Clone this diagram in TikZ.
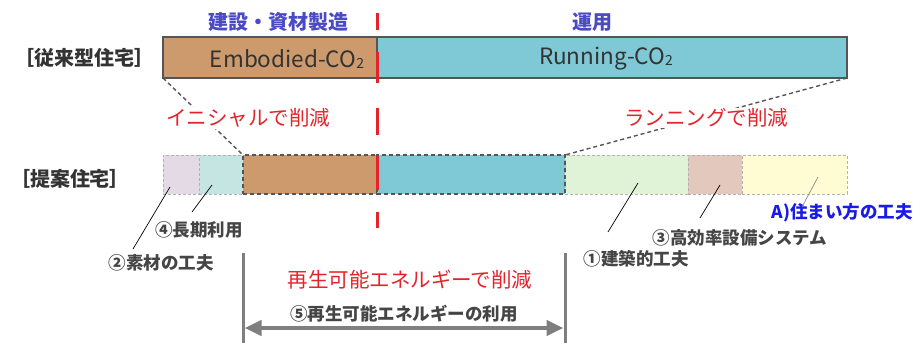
\documentclass[tikz,border=0pt]{standalone}
\usepackage{fontspec}
\setmainfont{Noto Sans CJK JP}
\usetikzlibrary{arrows.meta}
\definecolor{cbrown}{HTML}{CC9A6C}
\definecolor{cblue}{HTML}{7EC9D5}
\definecolor{cpurple}{HTML}{E4DAE6}
\definecolor{cteal}{HTML}{C4E5E1}
\definecolor{cgreen}{HTML}{E0F3D6}
\definecolor{cpink}{HTML}{E3C8BE}
\definecolor{cyellow}{HTML}{FFFCD4}
\definecolor{cdark}{HTML}{555555}
\definecolor{ctext}{HTML}{333333}
\definecolor{cnum}{HTML}{454545}
\definecolor{ctopblue}{HTML}{4A4AC4}
\definecolor{cablue}{HTML}{1A1AE8}
\definecolor{cred}{HTML}{E3242B}
\definecolor{cline}{HTML}{7F7F7F}
\begin{document}
\begin{tikzpicture}[x=1pt,y=-1pt,
  bar/.style={draw=cdark,line width=1.5pt,minimum height=41pt,anchor=north west,inner sep=0pt,outer sep=0pt},
  dbar/.style={draw=cdark,line width=1.4pt,dash pattern=on 4pt off 3pt,minimum height=39pt,anchor=north west,inner sep=0pt,outer sep=0pt},
  lbar/.style={draw=black!30,line width=0.7pt,dash pattern=on 3pt off 2pt,minimum height=39pt,anchor=north west,inner sep=0pt,outer sep=0pt},
  bigtxt/.style={font=\fontsize{22.5}{26}\selectfont,text=ctext},
  hlbl/.style={font=\fontsize{20}{24}\selectfont\bfseries,text=ctext,inner sep=0pt},
  toplbl/.style={font=\fontsize{20}{24}\selectfont\bfseries,text=ctopblue,inner sep=0pt},
  redlbl/.style={font=\fontsize{20.5}{24}\selectfont,text=cred,fill=white,inner sep=1pt},
  numlbl/.style={font=\fontsize{17.5}{20}\selectfont\bfseries,text=cnum,inner sep=0pt},
  conn/.style={draw=cdark,line width=1.4pt,dash pattern=on 4pt off 3pt},
  leader/.style={draw=black,line width=0.7pt},
  reddash/.style={draw=cred,line width=3pt},
  vline/.style={draw=cline,line width=3pt},
  dblarrow/.style={draw=cline,line width=4.5pt,{Triangle[length=17pt,width=15pt]}-{Triangle[length=17pt,width=15pt]}}
]
\useasboundingbox (0,0) rectangle (914,343);

% top bar
\node[bar,fill=cbrown,minimum width=214pt] (emb) at (163,37) {};
\node[bar,fill=cblue,minimum width=470pt] (run) at (377,37) {};
\node[bigtxt] (embt) at (287,59) {Embodied-CO\raisebox{-1pt}{\fontsize{14}{14}\selectfont 2}};
\node[bigtxt] (runt) at (606,59) {Running-CO\raisebox{-1pt}{\fontsize{14}{14}\selectfont 2}};

% bottom bar
\node[lbar,fill=cpurple,minimum width=36pt] (pur) at (163,155) {};
\node[lbar,fill=cteal,minimum width=44pt] (tea) at (199,155) {};
\node[lbar,fill=cgreen,minimum width=123pt] (gre) at (565,155) {};
\node[lbar,fill=cpink,minimum width=54pt] (pin) at (688,155) {};
\node[lbar,fill=cyellow,minimum width=105pt] (yel) at (742,155) {};
\node[dbar,fill=cbrown,minimum width=134pt] (emb2) at (243,155) {};
\node[dbar,fill=cblue,minimum width=188pt] (run2) at (377,155) {};

% dashed connectors
\draw[conn] (emb.south west) -- (emb2.north west);
\draw[conn] (run.south east) -- (run2.north east);

% headings
\node[toplbl] (h1) at (278,22) {建設・資材製造};
\node[toplbl] (h2) at (592,22) {運用};
\node[hlbl] (conv) at (85,58) {［従来型住宅］};
\node[hlbl] (prop) at (70,179) {［提案住宅］};

% red reduction labels
\node[redlbl] (ini) at (248,118) {イニシャルで削減};
\node[redlbl] (runred) at (706,118) {ランニングで削減};

% red dashed divider
\draw[reddash] (377,13) -- (377,30) (377,52) -- (377,83) (377,108) -- (377,135) (377,156) -- (377,190) (377,212) -- (377,228);

% numbered labels
\node[numlbl] (l4) at (199,230) {④長期利用};
\node[numlbl] (l2) at (161,263) {②素材の工夫};
\node[numlbl] (l1) at (636,259) {①建築的工夫};
\node[numlbl] (l3) at (740,238) {③高効率設備システム};
\node[numlbl,text=cablue] (la) at (842,213) {A)住まい方の工夫};

% leaders
\coordinate (p4) at (212,185); \coordinate (q4) at (192,212);
\coordinate (p2) at (170,187); \coordinate (q2) at (133,249);
\coordinate (p1) at (638,183); \coordinate (q1) at (608,232);
\coordinate (p3) at (720,185); \coordinate (q3) at (700,218);
\coordinate (pa) at (818,177); \coordinate (qa) at (802,207);
\draw[leader] (p4) -- (q4);
\draw[leader] (p2) -- (q2);
\draw[leader] (p1) -- (q1);
\draw[leader] (p3) -- (q3);
\draw[leader,draw=black!45] (pa) -- (qa);

% renewable
\coordinate (v1t) at (243,253); \coordinate (v1b) at (243,343);
\coordinate (v2t) at (565,253); \coordinate (v2b) at (565,343);
\draw[vline] (v1t) -- (v1b);
\draw[vline] (v2t) -- (v2b);
\node[redlbl] (ren) at (410,280) {再生可能エネルギーで削減};
\node[numlbl] (l5) at (404,314) {⑤再生可能エネルギーの利用};
\coordinate (a1) at (244.5,328); \coordinate (a2) at (563.5,328);
\draw[dblarrow] (a1) -- (a2);
\end{tikzpicture}
\end{document}
